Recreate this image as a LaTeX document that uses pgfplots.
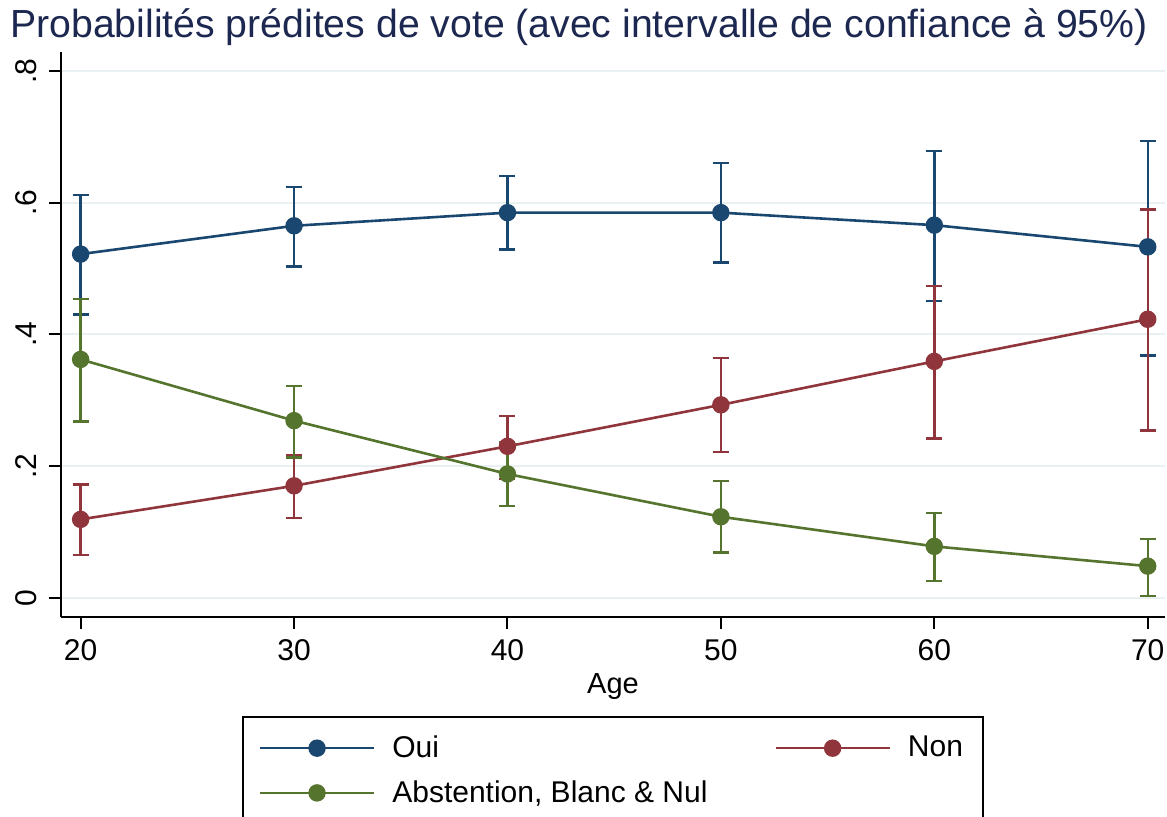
\documentclass[border=0pt]{standalone}
\usepackage{pgfplots}
\usepackage{pgfplotstable}
\pgfplotsset{compat=1.18}
\usepackage{fontspec}
\setmainfont{Liberation Sans}
\definecolor{cOui}{RGB}{26,71,111}
\definecolor{cNon}{RGB}{144,53,59}
\definecolor{cAbs}{RGB}{85,117,47}
\definecolor{cTitle}{RGB}{28,40,80}
\definecolor{cGrid}{RGB}{232,240,242}
\pgfplotstableread{
x y lo hi
20 0.522 0.430 0.612
30 0.565 0.503 0.624
40 0.585 0.529 0.641
50 0.585 0.509 0.660
60 0.566 0.451 0.679
70 0.533 0.368 0.694
}\oui
\pgfplotstableread{
x y lo hi
20 0.119 0.065 0.172
30 0.170 0.121 0.217
40 0.230 0.180 0.276
50 0.293 0.221 0.364
60 0.359 0.242 0.474
70 0.423 0.254 0.590
}\non
\pgfplotstableread{
x y lo hi
20 0.362 0.268 0.454
30 0.269 0.213 0.322
40 0.188 0.139 0.236
50 0.123 0.069 0.177
60 0.078 0.025 0.129
70 0.048 0.003 0.089
}\abst
\pgfplotsset{
  ci/.style={forget plot, draw=none, mark=none,
    error bars/.cd, y dir=both, y explicit,
    error bar style={draw=#1, line width=1.2pt, solid},
    error mark options={draw=#1, mark size=4pt, line width=1.2pt, rotate=90}},
  ln/.style={draw=#1, line width=1.3pt, mark=*, mark size=3.7pt,
    mark options={solid, fill=#1, draw=#1}},
}
\begin{document}
\begin{tikzpicture}
\begin{axis}[
  name=ax,
  scale only axis, width=552pt, height=282.5pt,
  xmin=19.08, xmax=70.81, ymin=-0.0293, ymax=0.829,
  axis x line*=bottom, axis y line*=left,
  axis line style={line width=1pt, black},
  tick align=outside, major tick length=6pt,
  tick style={line width=1pt, black},
  xtick={20,30,40,50,60,70},
  ytick={0,0.2,0.4,0.6,0.8},
  yticklabels={0,.2,.4,.6,.8},
  ymajorgrids, grid style={draw=cGrid, line width=1pt},
  ticklabel style={font=\fontsize{15}{18}\selectfont},
  /pgf/number format/assume math mode=true,
  yticklabel style={rotate=90, anchor=south},
  yticklabel shift=2.5pt,
  xticklabel shift=1.5pt,
  xlabel={Age},
  xlabel style={font=\fontsize{14.5}{17}\selectfont, at={(axis description cs:0.5,-0.1345)}, anchor=base},
  title={Probabilités prédites de vote (avec intervalle de confiance à 95\%)},
  title style={font=\fontsize{19.6}{23}\selectfont, text=cTitle, at={(axis description cs:0.4692,1.0053)}, anchor=base},
  legend columns=2,
  legend style={at={(axis description cs:0.1639,-0.1752)}, anchor=north west,
    draw=black, line width=0.8pt, font=\fontsize{15}{18}\selectfont,
    inner xsep=8pt, inner ysep=7.5pt, row sep=6pt,
    /tikz/every even column/.append style={column sep=0pt}},
  legend cell align=left,
  legend image code/.code={\draw[mark repeat=2, mark phase=2, #1] plot coordinates {(0pt,0pt) (28.5pt,0pt) (57pt,0pt)};},
]
\addplot[ci=cOui] table[x=x, y=y, y error plus expr=\thisrow{hi}-\thisrow{y}, y error minus expr=\thisrow{y}-\thisrow{lo}] {\oui};
\addplot[ci=cNon] table[x=x, y=y, y error plus expr=\thisrow{hi}-\thisrow{y}, y error minus expr=\thisrow{y}-\thisrow{lo}] {\non};
\addplot[ci=cAbs] table[x=x, y=y, y error plus expr=\thisrow{hi}-\thisrow{y}, y error minus expr=\thisrow{y}-\thisrow{lo}] {\abst};
\addplot[ln=cOui] table[x=x, y=y] {\oui};
\addlegendentry{\hspace*{6.5pt}\makebox[189pt][l]{Oui}}
\addplot[ln=cNon] table[x=x, y=y] {\non};
\addlegendentry{\hspace*{6.5pt}Non}
\addplot[ln=cAbs] table[x=x, y=y] {\abst};
\addlegendentry{\hspace*{6.5pt}\makebox[189pt][l]{Abstention, Blanc \& Nul}}
\end{axis}
\pgfresetboundingbox
\path[use as bounding box] ([shift={(-30.5pt,-99.5pt)}]ax.south west) rectangle ++(583.5pt,408pt);
\end{tikzpicture}
\end{document}
